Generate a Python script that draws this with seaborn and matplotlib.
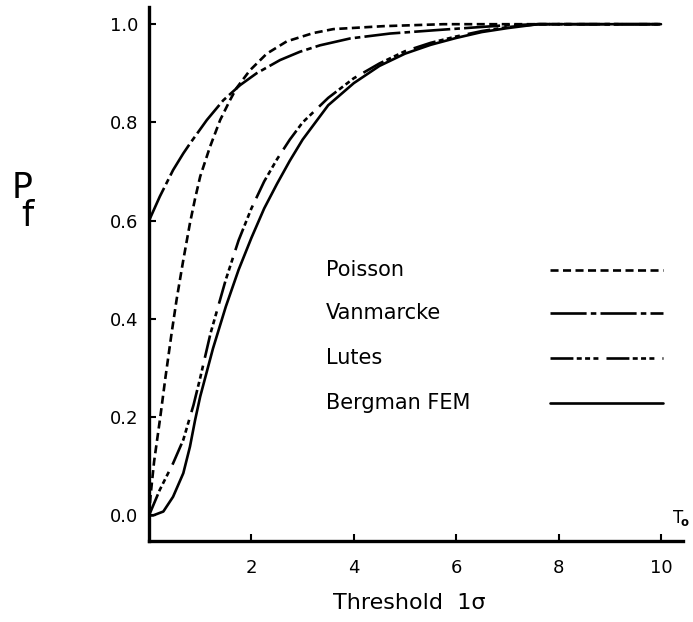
import matplotlib
matplotlib.use("Agg")
import matplotlib.pyplot as plt
from matplotlib.lines import Line2D
import pandas as pd
import seaborn as sns

# Failure probability versus threshold level for four estimation methods
poisson_x = [0, 0.03, 0.10, 0.22, 0.32, 0.44, 0.54, 0.67, 0.80, 0.90, 1.0, 1.19, 1.39,
             1.58, 1.71, 1.97, 2.30, 2.69, 3.21, 3.6, 4.58, 5.75, 7.0, 8.5, 10]
poisson_y = [0, 0.04, 0.11, 0.20, 0.28, 0.37, 0.44, 0.52, 0.595, 0.645, 0.69, 0.75, 0.805,
             0.845, 0.87, 0.906, 0.94, 0.965, 0.982, 0.99, 0.996, 1.0, 1.0, 1.0, 1.0]

vanmarcke_x = [0, 0.21, 0.47, 0.67, 0.80, 1.13, 1.45, 1.78, 2.10, 2.56, 2.95, 3.34, 3.93,
               4.71, 5.62, 6.86, 7.57, 8.5, 10]
vanmarcke_y = [0.6, 0.649, 0.703, 0.737, 0.757, 0.805, 0.845, 0.876, 0.90, 0.927, 0.944,
               0.957, 0.971, 0.981, 0.988, 0.997, 1.0, 1.0, 1.0]

lutes_x = [0, 0.21, 0.47, 0.67, 0.87, 1.0, 1.2, 1.5, 1.75, 2.0, 2.25, 2.5, 2.75, 3.0, 3.5,
           4.0, 4.5, 5.0, 5.5, 6.0, 6.5, 7.0, 7.6, 8.5, 10]
lutes_y = [0, 0.052, 0.106, 0.154, 0.225, 0.28, 0.37, 0.48, 0.56, 0.625, 0.68, 0.725, 0.765,
           0.80, 0.85, 0.89, 0.92, 0.945, 0.962, 0.975, 0.986, 0.994, 1.0, 1.0, 1.0]

bergman_x = [0, 0.08, 0.28, 0.47, 0.67, 0.80, 0.90, 1.0, 1.25, 1.5, 1.75, 2.0, 2.25, 2.5,
             2.75, 3.0, 3.5, 4.0, 4.5, 5.0, 5.5, 6.0, 6.5, 7.0, 7.6, 8.5, 10]
bergman_y = [0, 0.0, 0.008, 0.038, 0.086, 0.14, 0.194, 0.242, 0.34, 0.425, 0.50, 0.565,
             0.625, 0.675, 0.722, 0.765, 0.835, 0.88, 0.915, 0.94, 0.958, 0.972, 0.984,
             0.992, 1.0, 1.0, 1.0]

methods = ["Poisson", "Vanmarcke", "Lutes", "Bergman FEM"]
x_ticks = [2, 4, 6, 8, 10]
y_ticks = [0.0, 0.2, 0.4, 0.6, 0.8, 1.0]

frames = []
for name, xs, ys in zip(methods,
                        [poisson_x, vanmarcke_x, lutes_x, bergman_x],
                        [poisson_y, vanmarcke_y, lutes_y, bergman_y]):
    frames.append(pd.DataFrame({"threshold": xs, "pf": ys, "method": name}))
df = pd.concat(frames, ignore_index=True)

sns.set_style("ticks")
plt.rcParams["font.family"] = ["DejaVu Sans"]
plt.rcParams["mathtext.fontset"] = "dejavusans"
plt.rcParams["lines.scale_dashes"] = False
plt.rcParams["text.color"] = "black"

dash_styles = {
    "Poisson": (5.8, 3.2),
    "Vanmarcke": (26, 3, 4, 3),
    "Lutes": (16.5, 2.4, 3.6, 2.4, 3.6, 2.4, 3.6, 5.8),
    "Bergman FEM": "",
}

fig = plt.figure(figsize=(6.93, 6.22), dpi=100)
ax = fig.add_axes([149 / 693, (622 - 541) / 622, 534 / 693, 534 / 622])

sns.lineplot(data=df, x="threshold", y="pf", style="method", dashes=dash_styles,
             color="black", linewidth=1.9, errorbar=None, legend=False, ax=ax)

ax.set_xlim(0, 10.43)
ax.set_ylim(-0.052, 1.035)
ax.set_xticks(x_ticks)
ax.set_xticklabels([str(t) for t in x_ticks])
ax.set_yticks(y_ticks)
ax.set_yticklabels([f"{t:.1f}" for t in y_ticks])

for side in ["top", "right"]:
    ax.spines[side].set_visible(False)
for side in ["left", "bottom"]:
    ax.spines[side].set_linewidth(2.4)
    ax.spines[side].set_color("black")

ax.tick_params(axis="both", direction="in", length=5, width=1.5, colors="black",
               labelsize=13)
ax.tick_params(axis="x", pad=13)
ax.tick_params(axis="y", pad=8)

ax.set_xlabel("Threshold  1σ", fontsize=16, color="black")
ax.xaxis.set_label_coords((409 - 149) / 534, (541 - 593) / 534)
ax.set_ylabel("")

# Axis symbols: P with a dropped f beneath it, and T_o at the end of the x axis
fig.text(12 / 693, (622 - 171) / 622, "P\nf", fontsize=25, ha="left", va="top",
         multialignment="right", linespacing=0.78, color="black")
fig.text(690 / 693, (622 - 523) / 622, r"$\mathrm{T}_{\!\mathbf{o}}$", fontsize=12,
         ha="right", va="baseline", color="black")

# Key: label on the left, line sample on the right
rows_y = [0.507, 0.427, 0.343, 0.258]
for name, ry in zip(methods, rows_y):
    ax.text(0.331, ry, name, transform=ax.transAxes, fontsize=15, ha="left",
            va="center", color="black")
    sample = Line2D([0.751, 0.963], [ry, ry], transform=ax.transAxes, color="black",
                    linewidth=1.9)
    if dash_styles[name]:
        sample.set_dashes(dash_styles[name])
    ax.add_line(sample)

fig.savefig("out.png", dpi=100, facecolor="white")
